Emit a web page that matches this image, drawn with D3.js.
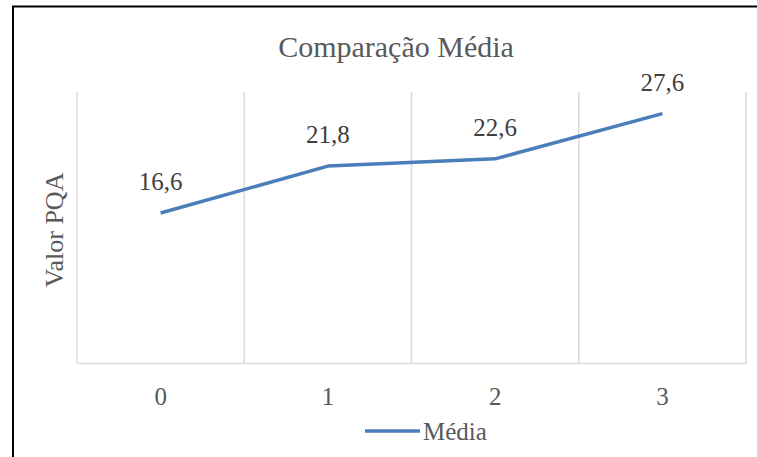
<!DOCTYPE html>
<html>
<head>
<meta charset="utf-8">
<script src="https://cdn.jsdelivr.net/npm/d3@7"></script>
<style>
  html, body { margin: 0; padding: 0; background: #fff; }
  svg { display: block; }
  svg text { font-family: "Liberation Serif", Tinos, "Times New Roman", Times, "Nimbus Roman", "DejaVu Serif" !important; }
</style>
</head>
<body>
<svg id="chart" width="757" height="457"></svg>
<script>
// Chart data
const categories = ["0", "1", "2", "3"];
const mediaValues = [16.6, 21.8, 22.6, 27.6];
const seriesName = "Média";
const chartTitle = "Comparação Média";
const yAxisTitle = "Valor PQA";

const W = 757, H = 457;
const margin = { left: 77, right: 11, top: 92, bottom: 94 };
const lineColor = "#4a7ebb";
const gridColor = "#d9d9d9";
const serif = "'Liberation Serif', Tinos, 'Times New Roman', Times, 'Nimbus Roman', 'DejaVu Serif'";

const svg = d3.select("#chart");

// Outer frame (runs past the right and bottom edges)
svg.append("rect")
  .attr("x", 13).attr("y", 6.5)
  .attr("width", 800).attr("height", 500)
  .attr("fill", "#fff")
  .attr("stroke", "#000")
  .attr("stroke-width", 2);

const x = d3.scaleBand()
  .domain(categories)
  .range([margin.left, W - margin.right])
  .padding(0);

const y = d3.scaleLinear()
  .domain([0, 30])
  .range([H - margin.bottom, margin.top]);

// Vertical gridlines at category boundaries
const bounds = categories.map(c => x(c)).concat([x(categories[categories.length - 1]) + x.bandwidth()]);
svg.append("g")
  .selectAll("line")
  .data(bounds)
  .join("line")
  .attr("x1", d => d).attr("x2", d => d)
  .attr("y1", y(30)).attr("y2", y(0))
  .attr("stroke", gridColor)
  .attr("stroke-width", 1.5);

// Horizontal category axis
const xAxis = svg.append("g")
  .attr("transform", `translate(0,${y(0)})`)
  .call(d3.axisBottom(x).tickSize(0).tickPadding(24));
xAxis.attr("font-family", serif);
xAxis.select(".domain").attr("stroke", gridColor).attr("stroke-width", 1.5);
xAxis.selectAll("text")
  .attr("fill", "#595959")
  .attr("font-size", 25);

// Series line
const line = d3.line()
  .x((d, i) => x(categories[i]) + x.bandwidth() / 2)
  .y(d => y(d));

svg.append("path")
  .datum(mediaValues)
  .attr("d", line)
  .attr("fill", "none")
  .attr("stroke", lineColor)
  .attr("stroke-width", 3.5)
  .attr("stroke-linejoin", "round");

// Data labels
svg.append("g")
  .selectAll("text")
  .data(mediaValues)
  .join("text")
  .attr("x", (d, i) => x(categories[i]) + x.bandwidth() / 2)
  .attr("y", d => y(d) - 23)
  .attr("text-anchor", "middle")
  .attr("fill", "#404040")
  .attr("font-family", serif)
  .attr("font-size", 25)
  .text(d => d.toFixed(1).replace(".", ","));

// Title
svg.append("text")
  .attr("x", 396).attr("y", 57)
  .attr("text-anchor", "middle")
  .attr("fill", "#595959")
  .attr("font-family", serif)
  .attr("font-size", 30)
  .text(chartTitle);

// Y axis title
svg.append("text")
  .attr("transform", `translate(63,230) rotate(-90)`)
  .attr("text-anchor", "middle")
  .attr("fill", "#595959")
  .attr("font-family", serif)
  .attr("font-size", 26)
  .text(yAxisTitle);

// Legend
const legend = svg.append("g");
legend.append("line")
  .attr("x1", 365).attr("x2", 420)
  .attr("y1", 431).attr("y2", 431)
  .attr("stroke", lineColor)
  .attr("stroke-width", 3.5);
legend.append("text")
  .attr("x", 423).attr("y", 440)
  .attr("fill", "#595959")
  .attr("font-family", serif)
  .attr("font-size", 25)
  .text(seriesName);
</script>
</body>
</html>
